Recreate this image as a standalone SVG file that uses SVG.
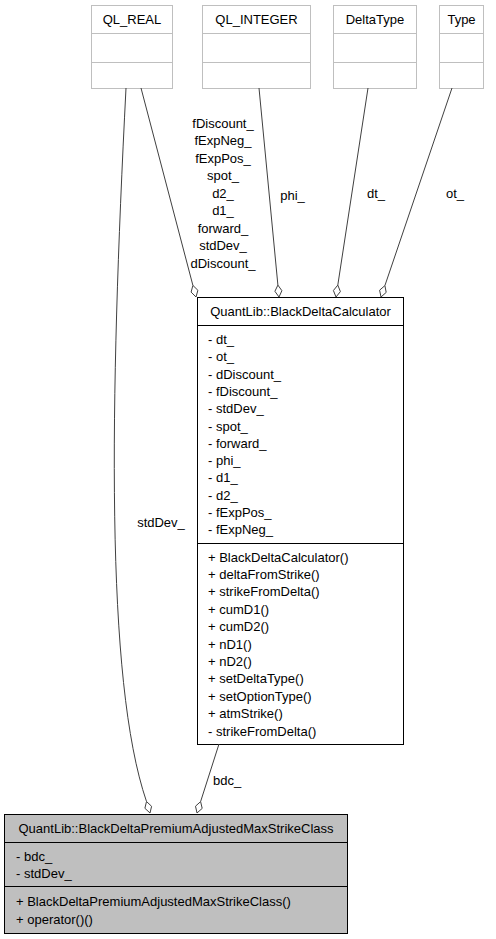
<svg xmlns="http://www.w3.org/2000/svg" width="496" height="939" viewBox="0 0 496 939">
<style>
text{font-family:"Liberation Sans",Helvetica,Arial,sans-serif;font-size:13px;fill:#000}
.c{text-anchor:middle}
.ext rect,.ext line{fill:#fff;stroke:#bfbfbf;stroke-width:1}
.cls rect{fill:#fff;stroke:#000;stroke-width:1}
.cls line{stroke:#000;stroke-width:1}
.main rect{fill:#bfbfbf;stroke:#000;stroke-width:1}
.main line{stroke:#000;stroke-width:1}
.edge{fill:none;stroke:#404040;stroke-width:1}
.dia{fill:#fff;stroke:#404040;stroke-width:1}
</style>
<rect width="496" height="939" fill="#fff"/>
<g id="QL_REAL" class="ext">
<rect x="91.5" y="5.5" width="81" height="83"/>
<line x1="91.5" y1="33.5" x2="172.5" y2="33.5"/>
<line x1="91.5" y1="62.5" x2="172.5" y2="62.5"/>
<text class="c" x="132" y="23.5">QL_REAL</text>
</g>
<g id="QL_INTEGER" class="ext">
<rect x="202.5" y="5.5" width="108" height="83"/>
<line x1="202.5" y1="33.5" x2="310.5" y2="33.5"/>
<line x1="202.5" y1="62.5" x2="310.5" y2="62.5"/>
<text class="c" x="256.5" y="23.5">QL_INTEGER</text>
</g>
<g id="DeltaType" class="ext">
<rect x="333.5" y="5.5" width="83" height="83"/>
<line x1="333.5" y1="33.5" x2="416.5" y2="33.5"/>
<line x1="333.5" y1="62.5" x2="416.5" y2="62.5"/>
<text class="c" x="375" y="23.5">DeltaType</text>
</g>
<g id="Type" class="ext">
<rect x="439.5" y="5.5" width="44" height="83"/>
<line x1="439.5" y1="33.5" x2="483.5" y2="33.5"/>
<line x1="439.5" y1="62.5" x2="483.5" y2="62.5"/>
<text class="c" x="461.5" y="23.5">Type</text>
</g>
<g id="BlackDeltaCalculator" class="cls">
<rect x="197.5" y="297.5" width="206" height="447"/>
<line x1="197.5" y1="325.5" x2="403.5" y2="325.5"/>
<line x1="197.5" y1="543.5" x2="403.5" y2="543.5"/>
<text class="c" x="300.5" y="315.5">QuantLib::BlackDeltaCalculator</text>
<text x="208" y="344">- dt_</text>
<text x="208" y="361.3">- ot_</text>
<text x="208" y="378.6">- dDiscount_</text>
<text x="208" y="395.9">- fDiscount_</text>
<text x="208" y="413.2">- stdDev_</text>
<text x="208" y="430.5">- spot_</text>
<text x="208" y="447.8">- forward_</text>
<text x="208" y="465.1">- phi_</text>
<text x="208" y="482.4">- d1_</text>
<text x="208" y="499.7">- d2_</text>
<text x="208" y="517">- fExpPos_</text>
<text x="208" y="534.3">- fExpNeg_</text>
<text x="208" y="561.5">+ BlackDeltaCalculator()</text>
<text x="208" y="578.9">+ deltaFromStrike()</text>
<text x="208" y="596.3">+ strikeFromDelta()</text>
<text x="208" y="613.7">+ cumD1()</text>
<text x="208" y="631.1">+ cumD2()</text>
<text x="208" y="648.5">+ nD1()</text>
<text x="208" y="665.9">+ nD2()</text>
<text x="208" y="683.3">+ setDeltaType()</text>
<text x="208" y="700.7">+ setOptionType()</text>
<text x="208" y="718.1">+ atmStrike()</text>
<text x="208" y="735.5">- strikeFromDelta()</text>
</g>
<g id="BlackDeltaPremiumAdjustedMaxStrikeClass" class="main">
<rect x="4.5" y="814.5" width="343" height="119"/>
<line x1="4.5" y1="842.5" x2="347.5" y2="842.5"/>
<line x1="4.5" y1="886.5" x2="347.5" y2="886.5"/>
<text class="c" x="176" y="833">QuantLib::BlackDeltaPremiumAdjustedMaxStrikeClass</text>
<text x="16" y="860.5">- bdc_</text>
<text x="16" y="877.5">- stdDev_</text>
<text x="16" y="905.5">+ BlackDeltaPremiumAdjustedMaxStrikeClass()</text>
<text x="16" y="923.5">+ operator()()</text>
</g>
<g id="connectors">
<path class="edge" d="M141,88 L192.9,285.4"/>
<polygon class="dia" points="196,297 197.9,290.3 192.9,285.4 191.1,292.1"/>
<text class="c" x="223" y="127.5">fDiscount_</text>
<text class="c" x="223" y="145">fExpNeg_</text>
<text class="c" x="223" y="162.5">fExpPos_</text>
<text class="c" x="223" y="180">spot_</text>
<text class="c" x="223" y="197.5">d2_</text>
<text class="c" x="223" y="215">d1_</text>
<text class="c" x="223" y="232.5">forward_</text>
<text class="c" x="223" y="250">stdDev_</text>
<text class="c" x="223" y="267.5">dDiscount_</text>
<path class="edge" d="M259,88 L277.9,285.1"/>
<polygon class="dia" points="279,297 281.9,290.7 277.9,285.1 274.9,291.3"/>
<text class="c" x="292.5" y="199.5">phi_</text>
<path class="edge" d="M368,88 L337.8,285.1"/>
<polygon class="dia" points="336,297 340.4,291.6 337.8,285.1 333.4,290.5"/>
<text class="c" x="376" y="198">dt_</text>
<path class="edge" d="M452,88 L384.9,285.6"/>
<polygon class="dia" points="381,297 386.2,292.4 384.9,285.6 379.6,290.2"/>
<text class="c" x="455" y="198">ot_</text>
<path class="edge" d="M126,88 C110,400 105,680 146.5,801.5"/>
<polygon class="dia" points="150,813 151.6,806.3 146.5,801.5 144.9,808.3"/>
<text class="c" x="161" y="526.5">stdDev_</text>
<path class="edge" d="M219,744 L200.6,801.6"/>
<polygon class="dia" points="197,813 202.2,808.4 200.6,801.6 195.5,806.2"/>
<text x="213" y="784.5">bdc_</text>
</g>
</svg>
